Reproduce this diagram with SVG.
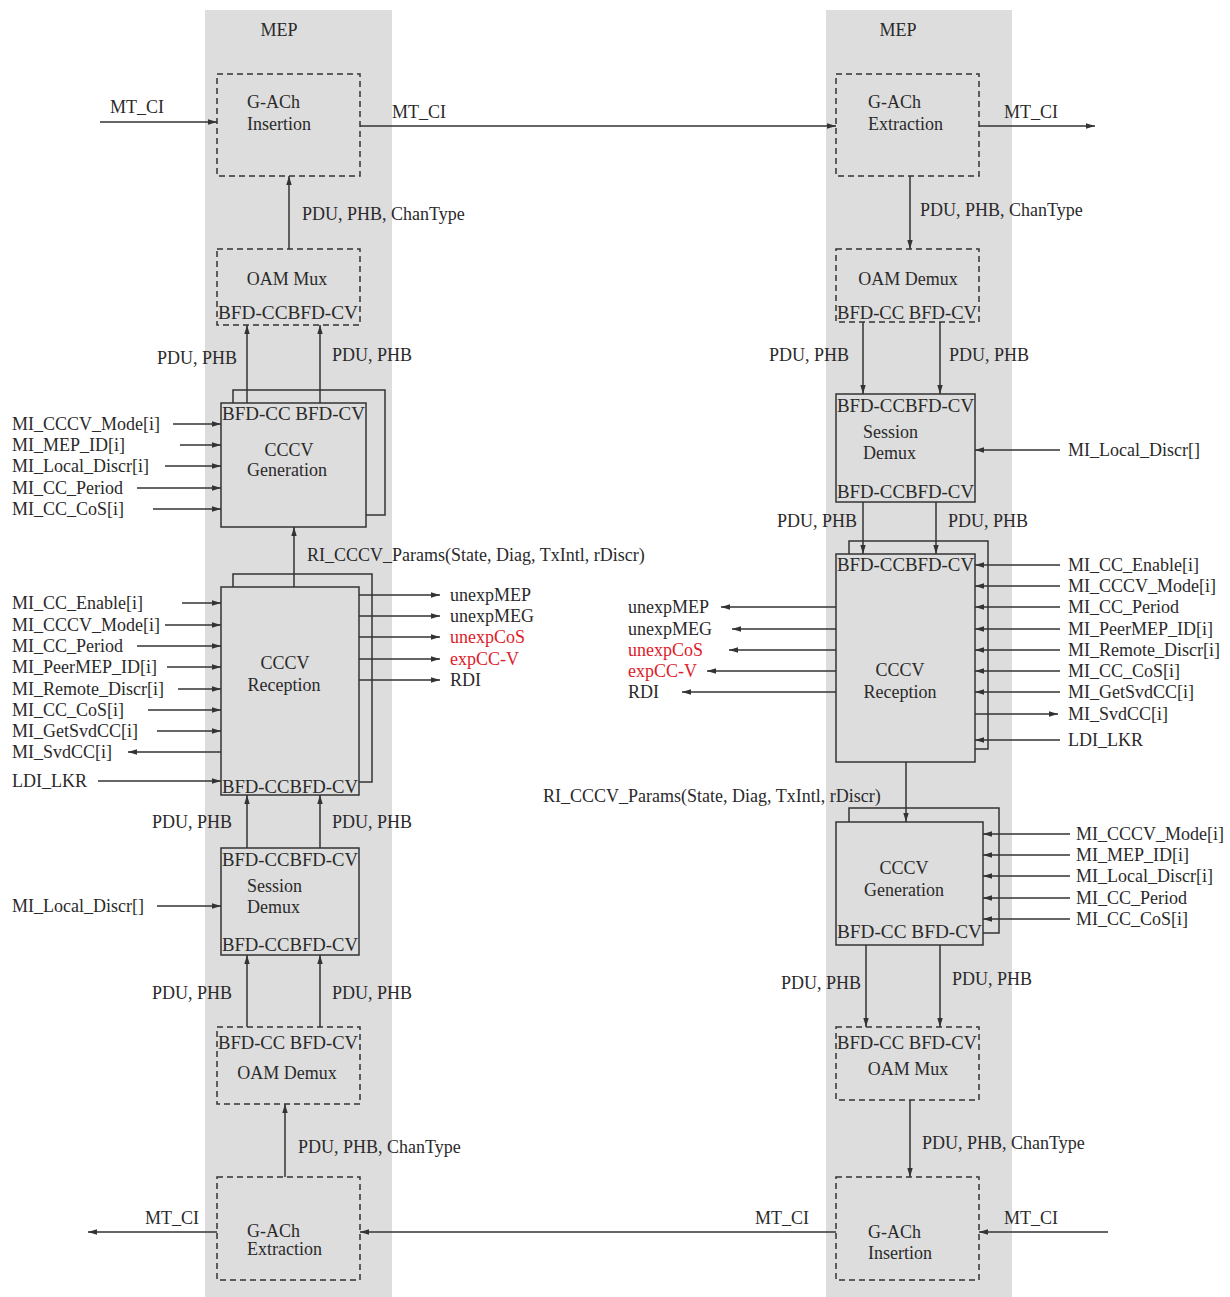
<svg xmlns="http://www.w3.org/2000/svg" width="1230" height="1297" viewBox="0 0 1230 1297">
<style>
text{font-family:"Liberation Serif","Times New Roman",serif;font-size:18px;fill:#2a2a2a}
.m{text-anchor:middle}
.r{fill:#e0202a}
.col{fill:#dddddd}
.dash{fill:none;stroke:#333;stroke-width:1.5;stroke-dasharray:6 4}
.box{fill:#dddddd;stroke:#333;stroke-width:1.5}
.sh{fill:none;stroke:#333;stroke-width:1.5}
.c line,.c path{stroke:#333;stroke-width:1.5;fill:none}
.c .a{marker-end:url(#ah)}
</style>
<defs>
<marker id="ah" viewBox="0 0 10 6" refX="10" refY="3" markerWidth="9" markerHeight="5.4" markerUnits="userSpaceOnUse" orient="auto"><path d="M0,0 L10,3 L0,6 z" fill="#333"/></marker>
</defs>
<rect width="1230" height="1297" fill="#fff"/>
<g id="mep-left"><rect class="col" x="205" y="10" width="187" height="1287"/><text class="m" x="279" y="36">MEP</text></g>
<g id="mep-right"><rect class="col" x="826" y="10" width="186" height="1287"/><text class="m" x="898" y="36">MEP</text></g>

<g class="c" id="connectors">
<line class="a" x1="100" y1="122" x2="217" y2="122"/>
<line class="a" x1="360" y1="126" x2="836" y2="126"/>
<line class="a" x1="979" y1="126" x2="1095" y2="126"/>
<line class="a" x1="289" y1="249" x2="289" y2="176"/>
<line class="a" x1="247" y1="404" x2="247" y2="325"/>
<line class="a" x1="320" y1="404" x2="320" y2="325"/>
<line class="a" x1="173" y1="424" x2="221" y2="424"/>
<line class="a" x1="180" y1="445" x2="221" y2="445"/>
<line class="a" x1="165" y1="466" x2="221" y2="466"/>
<line class="a" x1="137" y1="488" x2="221" y2="488"/>
<line class="a" x1="153" y1="509" x2="221" y2="509"/>
<line class="a" x1="294" y1="587" x2="294" y2="527"/>
<line class="a" x1="182" y1="603" x2="221" y2="603"/>
<line class="a" x1="165" y1="625" x2="221" y2="625"/>
<line class="a" x1="137" y1="646" x2="221" y2="646"/>
<line class="a" x1="167" y1="667" x2="221" y2="667"/>
<line class="a" x1="178" y1="689" x2="221" y2="689"/>
<line class="a" x1="148" y1="710" x2="221" y2="710"/>
<line class="a" x1="157" y1="731" x2="221" y2="731"/>
<line class="a" x1="221" y1="752" x2="128" y2="752"/>
<line class="a" x1="98" y1="781" x2="221" y2="781"/>
<line class="a" x1="359" y1="595" x2="440" y2="595"/>
<line class="a" x1="359" y1="616" x2="440" y2="616"/>
<line class="a" x1="359" y1="637" x2="440" y2="637"/>
<line class="a" x1="359" y1="659" x2="440" y2="659"/>
<line class="a" x1="359" y1="680" x2="440" y2="680"/>
<line class="a" x1="247" y1="849" x2="247" y2="795"/>
<line class="a" x1="320" y1="849" x2="320" y2="795"/>
<line class="a" x1="157" y1="906" x2="221" y2="906"/>
<line class="a" x1="247" y1="1027" x2="247" y2="955"/>
<line class="a" x1="320" y1="1027" x2="320" y2="955"/>
<line class="a" x1="285" y1="1177" x2="285" y2="1104"/>
<line class="a" x1="217" y1="1232" x2="88" y2="1232"/>
<line class="a" x1="836" y1="1232" x2="360" y2="1232"/>
<line class="a" x1="1108" y1="1232" x2="979" y2="1232"/>
<line class="a" x1="910" y1="176" x2="910" y2="249"/>
<line class="a" x1="863" y1="322" x2="863" y2="394"/>
<line class="a" x1="940" y1="322" x2="940" y2="394"/>
<line class="a" x1="1060" y1="450" x2="975" y2="450"/>
<line class="a" x1="863" y1="502" x2="863" y2="554"/>
<line class="a" x1="936" y1="502" x2="936" y2="554"/>
<line class="a" x1="1060" y1="565" x2="975" y2="565"/>
<line class="a" x1="1060" y1="586" x2="975" y2="586"/>
<line class="a" x1="1060" y1="607" x2="975" y2="607"/>
<line class="a" x1="1060" y1="629" x2="975" y2="629"/>
<line class="a" x1="1060" y1="650" x2="975" y2="650"/>
<line class="a" x1="1060" y1="671" x2="975" y2="671"/>
<line class="a" x1="1060" y1="692" x2="975" y2="692"/>
<line class="a" x1="975" y1="714" x2="1058" y2="714"/>
<line class="a" x1="1060" y1="740" x2="975" y2="740"/>
<line class="a" x1="836" y1="607" x2="721" y2="607"/>
<line class="a" x1="836" y1="629" x2="732" y2="629"/>
<line class="a" x1="836" y1="650" x2="729" y2="650"/>
<line class="a" x1="836" y1="671" x2="707" y2="671"/>
<line class="a" x1="836" y1="692" x2="682" y2="692"/>
<line class="a" x1="906" y1="762" x2="906" y2="822"/>
<line class="a" x1="1070" y1="834" x2="983" y2="834"/>
<line class="a" x1="1070" y1="855" x2="983" y2="855"/>
<line class="a" x1="1070" y1="876" x2="983" y2="876"/>
<line class="a" x1="1070" y1="898" x2="983" y2="898"/>
<line class="a" x1="1070" y1="919" x2="983" y2="919"/>
<line class="a" x1="866" y1="945" x2="866" y2="1027"/>
<line class="a" x1="940" y1="945" x2="940" y2="1027"/>
<line class="a" x1="910" y1="1100" x2="910" y2="1177"/>
</g>

<g id="labels">
<text x="110" y="113">MT_CI</text>
<text x="392" y="118">MT_CI</text>
<text x="1004" y="118">MT_CI</text>
<text x="302" y="220">PDU, PHB, ChanType</text>
<text x="157" y="364">PDU, PHB</text>
<text x="332" y="361">PDU, PHB</text>
<text x="12" y="430">MI_CCCV_Mode[i]</text>
<text x="12" y="451">MI_MEP_ID[i]</text>
<text x="12" y="472">MI_Local_Discr[i]</text>
<text x="12" y="494">MI_CC_Period</text>
<text x="12" y="515">MI_CC_CoS[i]</text>
<text x="307" y="561">RI_CCCV_Params(State, Diag, TxIntl, rDiscr)</text>
<text x="12" y="609">MI_CC_Enable[i]</text>
<text x="12" y="631">MI_CCCV_Mode[i]</text>
<text x="12" y="652">MI_CC_Period</text>
<text x="12" y="673">MI_PeerMEP_ID[i]</text>
<text x="12" y="695">MI_Remote_Discr[i]</text>
<text x="12" y="716">MI_CC_CoS[i]</text>
<text x="12" y="737">MI_GetSvdCC[i]</text>
<text x="12" y="758">MI_SvdCC[i]</text>
<text x="12" y="787">LDI_LKR</text>
<text x="450" y="601">unexpMEP</text>
<text x="450" y="622">unexpMEG</text>
<text class="r" x="450" y="643">unexpCoS</text>
<text class="r" x="450" y="665">expCC-V</text>
<text x="450" y="686">RDI</text>
<text x="152" y="828">PDU, PHB</text>
<text x="332" y="828">PDU, PHB</text>
<text x="12" y="912">MI_Local_Discr[]</text>
<text x="152" y="999">PDU, PHB</text>
<text x="332" y="999">PDU, PHB</text>
<text x="298" y="1153">PDU, PHB, ChanType</text>
<text x="145" y="1224">MT_CI</text>
<text x="755" y="1224">MT_CI</text>
<text x="1004" y="1224">MT_CI</text>
<text x="920" y="216">PDU, PHB, ChanType</text>
<text x="769" y="361">PDU, PHB</text>
<text x="949" y="361">PDU, PHB</text>
<text x="1068" y="456">MI_Local_Discr[]</text>
<text x="777" y="527">PDU, PHB</text>
<text x="948" y="527">PDU, PHB</text>
<text x="1068" y="571">MI_CC_Enable[i]</text>
<text x="1068" y="592">MI_CCCV_Mode[i]</text>
<text x="1068" y="613">MI_CC_Period</text>
<text x="1068" y="635">MI_PeerMEP_ID[i]</text>
<text x="1068" y="656">MI_Remote_Discr[i]</text>
<text x="1068" y="677">MI_CC_CoS[i]</text>
<text x="1068" y="698">MI_GetSvdCC[i]</text>
<text x="1068" y="720">MI_SvdCC[i]</text>
<text x="1068" y="746">LDI_LKR</text>
<text x="628" y="613">unexpMEP</text>
<text x="628" y="635">unexpMEG</text>
<text class="r" x="628" y="656">unexpCoS</text>
<text class="r" x="628" y="677">expCC-V</text>
<text x="628" y="698">RDI</text>
<text x="543" y="802">RI_CCCV_Params(State, Diag, TxIntl, rDiscr)</text>
<text x="1076" y="840">MI_CCCV_Mode[i]</text>
<text x="1076" y="861">MI_MEP_ID[i]</text>
<text x="1076" y="882">MI_Local_Discr[i]</text>
<text x="1076" y="904">MI_CC_Period</text>
<text x="1076" y="925">MI_CC_CoS[i]</text>
<text x="781" y="989">PDU, PHB</text>
<text x="952" y="985">PDU, PHB</text>
<text x="922" y="1149">PDU, PHB, ChanType</text>
</g>

<g id="l-gach-insertion"><rect class="dash" x="217" y="74" width="143" height="102"/><text x="247" y="108">G-ACh</text><text x="247" y="130">Insertion</text></g>
<g id="l-oam-mux"><rect class="dash" x="217" y="249" width="143" height="76"/><text class="m" x="287" y="285">OAM Mux</text><text x="218" y="319" textLength="140" lengthAdjust="spacingAndGlyphs">BFD-CCBFD-CV</text></g>
<g id="l-cccv-gen"><rect class="sh" x="233" y="390" width="152" height="125"/><rect class="box" x="221" y="403" width="145" height="124"/><text x="222" y="420" textLength="143" lengthAdjust="spacingAndGlyphs">BFD-CC BFD-CV</text><text class="m" x="289" y="456">CCCV</text><text class="m" x="287" y="476">Generation</text></g>
<g id="l-cccv-rec"><rect class="sh" x="233" y="574" width="139" height="208"/><rect class="box" x="221" y="587" width="138" height="208"/><text x="222" y="793" textLength="136" lengthAdjust="spacingAndGlyphs">BFD-CCBFD-CV</text><text class="m" x="285" y="669">CCCV</text><text class="m" x="284" y="691">Reception</text></g>
<g id="l-session-demux"><rect class="box" x="221" y="848" width="138" height="107"/><text x="222" y="866" textLength="136" lengthAdjust="spacingAndGlyphs">BFD-CCBFD-CV</text><text x="247" y="892">Session</text><text x="247" y="913">Demux</text><text x="222" y="951" textLength="136" lengthAdjust="spacingAndGlyphs">BFD-CCBFD-CV</text></g>
<g id="l-oam-demux"><rect class="dash" x="217" y="1027" width="143" height="77"/><text x="218" y="1049" textLength="140" lengthAdjust="spacingAndGlyphs">BFD-CC BFD-CV</text><text class="m" x="287" y="1079">OAM Demux</text></g>
<g id="l-gach-extraction"><rect class="dash" x="217" y="1177" width="143" height="103"/><text x="247" y="1237">G-ACh</text><text x="247" y="1255">Extraction</text></g>

<g id="r-gach-extraction"><rect class="dash" x="836" y="74" width="143" height="102"/><text x="868" y="108">G-ACh</text><text x="868" y="130">Extraction</text></g>
<g id="r-oam-demux"><rect class="dash" x="836" y="249" width="143" height="73"/><text class="m" x="908" y="285">OAM Demux</text><text x="837" y="319" textLength="140" lengthAdjust="spacingAndGlyphs">BFD-CC BFD-CV</text></g>
<g id="r-session-demux"><rect class="box" x="836" y="394" width="139" height="108"/><text x="837" y="412" textLength="137" lengthAdjust="spacingAndGlyphs">BFD-CCBFD-CV</text><text x="863" y="438">Session</text><text x="863" y="459">Demux</text><text x="837" y="498" textLength="137" lengthAdjust="spacingAndGlyphs">BFD-CCBFD-CV</text></g>
<g id="r-cccv-rec"><rect class="sh" x="849" y="541" width="139" height="208"/><rect class="box" x="836" y="554" width="139" height="208"/><text x="837" y="571" textLength="137" lengthAdjust="spacingAndGlyphs">BFD-CCBFD-CV</text><text class="m" x="900" y="676">CCCV</text><text class="m" x="900" y="698">Reception</text></g>
<g id="r-cccv-gen"><rect class="sh" x="849" y="808" width="150" height="125"/><rect class="box" x="836" y="822" width="147" height="123"/><text class="m" x="904" y="874">CCCV</text><text class="m" x="904" y="896">Generation</text><text x="837" y="938" textLength="145" lengthAdjust="spacingAndGlyphs">BFD-CC BFD-CV</text></g>
<g id="r-oam-mux"><rect class="dash" x="836" y="1027" width="143" height="73"/><text x="837" y="1049" textLength="140" lengthAdjust="spacingAndGlyphs">BFD-CC BFD-CV</text><text class="m" x="908" y="1075">OAM Mux</text></g>
<g id="r-gach-insertion"><rect class="dash" x="836" y="1177" width="143" height="103"/><text x="868" y="1238">G-ACh</text><text x="868" y="1259">Insertion</text></g>
</svg>
